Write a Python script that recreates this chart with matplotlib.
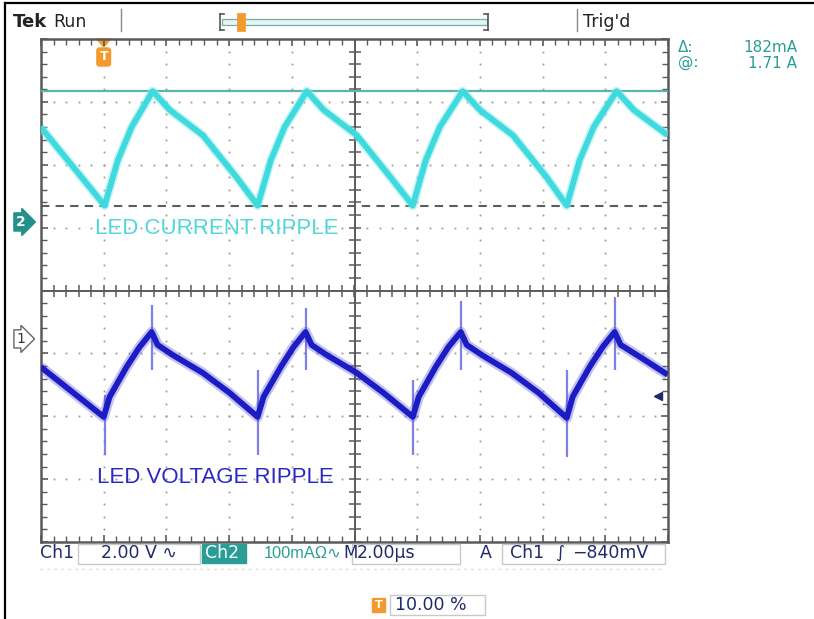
import matplotlib
matplotlib.use("Agg")
import matplotlib.pyplot as plt
import numpy as np
from matplotlib.lines import Line2D
from matplotlib.patches import Rectangle, Polygon
from matplotlib.transforms import blended_transform_factory

W, H = 814, 619

# Ch2 - LED current, time in us, current in A
cur_t = [-2.01, 0.03, 0.45, 0.89, 1.56, 2.11, 3.16, 4.24,
         4.91, 5.33, 5.77, 6.48, 7.02, 8.07, 9.15,
         9.86, 10.27, 10.72, 11.45, 12.00, 13.05, 14.13,
         14.77, 15.18, 15.63, 16.36, 16.91, 17.99]
cur_a = [1.653, 1.528, 1.600, 1.653, 1.710, 1.680, 1.640, 1.573,
         1.528, 1.600, 1.653, 1.710, 1.680, 1.640, 1.573,
         1.528, 1.600, 1.653, 1.710, 1.680, 1.640, 1.573,
         1.528, 1.600, 1.653, 1.710, 1.680, 1.640]

# Ch1 - LED voltage (AC coupled), time in us, volts
volt_t = [-2.01, 0.00, 0.19, 0.73, 1.15, 1.53, 1.72, 2.20, 3.16, 4.02,
          4.91, 5.10, 5.65, 6.06, 6.44, 6.63, 7.11, 8.07, 8.93,
          9.86, 10.05, 10.59, 11.00, 11.39, 11.58, 12.06, 13.01, 13.88,
          14.77, 14.96, 15.50, 15.92, 16.30, 16.49, 17.10, 17.99]
volt_v = [-0.89, -2.48, -1.84, -0.89, -0.25, 0.22, -0.19, -0.51, -1.08, -1.72,
          -2.48, -1.84, -0.89, -0.25, 0.22, -0.19, -0.51, -1.08, -1.72,
          -2.48, -1.84, -0.89, -0.25, 0.22, -0.19, -0.51, -1.08, -1.72,
          -2.51, -1.84, -0.89, -0.25, 0.22, -0.19, -0.57, -1.14]

# switching spikes on Ch1
spike_t = [0.03, 1.53, 4.91, 6.44, 9.86, 11.39, 14.77, 16.30]
spike_top = [-1.78, 1.08, -0.99, 0.99, -1.30, 1.20, -0.99, 1.34]
spike_bot = [-3.69, -0.99, -3.69, -0.99, -3.69, -0.99, -3.75, -0.99]

cursor_at = 1.71      # A
cursor_delta = 0.182  # A
trig_level_v = -1.81

# scope settings
t_per_div = 2.0
t_start = -2.0
ch1_v_per_div = 2.0
ch1_pos_div = -0.77
ch2_a_per_div = 0.1
ch2_center = 1.393
ch2_pos_div = 1.09

CUR_C = '#3fdade'
VOLT_C = '#1c1cc4'
TEAL = '#2a9d96'
NAVY = '#1f2a6b'
ORANGE = '#f29a2e'
SCOPE_FONT = ['DejaVu Sans']


def fx(px):
    return px / W


def fy(py):
    return 1 - py / H


fig = plt.figure(figsize=(W / 100, H / 100), dpi=100)
fig.patch.set_facecolor('white')

pos = [fx(41), fy(542), (668 - 41) / W, (542 - 39) / H]
ax = fig.add_axes(pos)
t_end = t_start + 10 * t_per_div
ax.set_xlim(t_start, t_end)
ax.set_ylim(-4, 4)
for s in ax.spines.values():
    s.set_color('#5a5a5a')
    s.set_linewidth(1.8)
ax.set_xticks(np.arange(t_start, t_end + 0.01, t_per_div))
ax.set_xticks(np.arange(t_start, t_end + 0.01, t_per_div / 5), minor=True)
ax.set_yticks(np.arange(-4, 4.01, 1))
ax.set_yticks(np.arange(-4, 4.01, 0.2), minor=True)
ax.tick_params(which='both', direction='in', top=True, right=True,
               labelbottom=False, labelleft=False, color='#5a5a5a')
ax.tick_params(which='major', length=5, width=1.2)
ax.tick_params(which='minor', length=4, width=1.0)

# graticule dots
t_mid = t_start + 5 * t_per_div
xs = np.arange(t_start, t_end + 0.01, t_per_div / 5)
ys = np.arange(-4, 4.01, 0.2)
for gy in range(-3, 4):
    if gy != 0:
        ax.plot(xs, [gy] * len(xs), ls='none', marker='s', ms=1.3,
                color='#9a9a9a', mew=0)
for k in range(1, 10):
    gx = t_start + k * t_per_div
    if k != 5:
        ax.plot([gx] * len(ys), ys, ls='none', marker='s', ms=1.3,
                color='#9a9a9a', mew=0)
# center axes with ticks
ax.axhline(0, color='#5a5a5a', lw=1.4)
ax.axvline(t_mid, color='#5a5a5a', lw=1.4)
ax.plot(xs, [0] * len(xs), ls='none', marker='|', ms=8, mew=1.1, color='#5a5a5a')
ax.plot([t_mid] * len(ys), ys, ls='none', marker='_', ms=8, mew=1.1, color='#5a5a5a')

# Ch1 axis (volts)
ax1 = fig.add_axes(pos, frameon=False)
ax1.set_xlim(t_start, t_end)
ax1.set_ylim((-4 - ch1_pos_div) * ch1_v_per_div, (4 - ch1_pos_div) * ch1_v_per_div)
ax1.axis('off')
ax1.vlines(spike_t, spike_bot, spike_top, color='#6a6ae6', lw=1.6, alpha=0.85)
ax1.plot(volt_t, volt_v, color='#5050d8', lw=7.5, alpha=0.35,
         solid_joinstyle='round', solid_capstyle='butt')
ax1.plot(volt_t, volt_v, color=VOLT_C, lw=4.2, solid_joinstyle='round',
         solid_capstyle='butt')
ax1.plot([t_start + (658 - 41) / 31.35], [trig_level_v], marker='<', ms=6,
         color=NAVY, clip_on=False)

# Ch2 axis (amps)
ax2 = fig.add_axes(pos, frameon=False)
ax2.set_xlim(t_start, t_end)
ax2.set_ylim(ch2_center - 4 * ch2_a_per_div, ch2_center + 4 * ch2_a_per_div)
ax2.axis('off')
ax2.axhline(cursor_at, color='#5fb3ae', lw=1.6)
ax2.axhline(cursor_at - cursor_delta, color='#555f5e', lw=1.5, ls=(0, (4, 3)))
ax2.plot(cur_t, cur_a, color='#8eeaec', lw=6.5, alpha=0.5,
         solid_joinstyle='round', solid_capstyle='butt')
ax2.plot(cur_t, cur_a, color=CUR_C, lw=4.2, solid_joinstyle='round',
         solid_capstyle='butt')

ax2.text(t_start + (95 - 41) / 31.35, ch2_center + 0.098, 'LED CURRENT RIPPLE',
         color='#4fd8dc', fontsize=16, family='Liberation Sans', va='center', ha='left')
ax.text(t_start + (97 - 41) / 31.35, -2.97, 'LED VOLTAGE RIPPLE', color='#2a2ac0',
        fontsize=16, family='Liberation Sans', va='center', ha='left')

# channel markers on the left
bt2 = blended_transform_factory(fig.transFigure, ax.transData)
bt1 = blended_transform_factory(fig.transFigure, ax1.transData)
ax.text(fx(16), ch2_pos_div, '2', transform=bt2, color='white', fontsize=10,
        fontweight='bold', va='center', family=SCOPE_FONT, clip_on=False,
        bbox=dict(boxstyle='rarrow,pad=0.15', fc='#23918b', ec='#23918b'))
ax1.text(fx(16), 0, '1', transform=bt1, color='#333333', fontsize=10,
         va='center', family=SCOPE_FONT, clip_on=False,
         bbox=dict(boxstyle='rarrow,pad=0.15', fc='white', ec='#666666', lw=1))

# trigger position marker
bt_top = blended_transform_factory(ax.transData, fig.transFigure)
ax.add_patch(Polygon([(-0.22, fy(39)), (0.22, fy(39)), (0, fy(47))], closed=True,
                     transform=bt_top, fc=ORANGE, ec=ORANGE, clip_on=False))
ax.text(0, fy(57), 'T', transform=bt_top, color='white', fontsize=9,
        fontweight='bold', ha='center', va='center', family=SCOPE_FONT,
        bbox=dict(boxstyle='round,pad=0.2', fc=ORANGE, ec=ORANGE))

# frame
fig.add_artist(Line2D([fx(5), fx(5)], [fy(3), 0], color='black', lw=1.6))
fig.add_artist(Line2D([fx(5), 1], [fy(3), fy(3)], color='black', lw=1.6))

# top status bar
fig.text(fx(13), fy(22), 'Tek', fontsize=13, fontweight='bold', va='center',
         family=SCOPE_FONT, color='#222222')
fig.text(fx(53), fy(22), 'Run', fontsize=12.5, va='center', family=SCOPE_FONT,
         color='#222222')
fig.add_artist(Line2D([fx(121)] * 2, [fy(9), fy(31)], color='#8a8a8a', lw=1))
fig.add_artist(Line2D([fx(577)] * 2, [fy(9), fy(31)], color='#8a8a8a', lw=1))
fig.add_artist(Rectangle((fx(222), fy(25)), fx(487) - fx(222), fy(19) - fy(25),
                         transform=fig.transFigure, fc='#e3f5f5', ec='#7faaa8', lw=0.9))
for bx, d in [(220, 4), (488, -4)]:
    fig.add_artist(Line2D([fx(bx)] * 2, [fy(14), fy(30)], color='#555555', lw=1.2))
    fig.add_artist(Line2D([fx(bx), fx(bx + d)], [fy(14), fy(14)], color='#555555', lw=1.2))
    fig.add_artist(Line2D([fx(bx), fx(bx + d)], [fy(30), fy(30)], color='#555555', lw=1.2))
fig.add_artist(Rectangle((fx(237), fy(31)), fx(245) - fx(237), fy(13) - fy(31),
                         transform=fig.transFigure, fc=ORANGE, ec=ORANGE, lw=0.5))
fig.text(fx(583), fy(22), "Trig'd", fontsize=12.5, va='center', family=SCOPE_FONT,
         color='#222222')

# cursor readout
fig.text(fx(678), fy(47), '\u0394:', fontsize=11, va='center', family=SCOPE_FONT, color=TEAL)
fig.text(fx(678), fy(63), '@:', fontsize=11, va='center', family=SCOPE_FONT, color=TEAL)
fig.text(fx(797), fy(47), '%dmA' % round(cursor_delta * 1000), fontsize=11,
         va='center', ha='right', family=SCOPE_FONT, color=TEAL)
fig.text(fx(797), fy(63), '%.2f A' % cursor_at, fontsize=11,
         va='center', ha='right', family=SCOPE_FONT, color=TEAL)

# bottom readout
by = fy(553)


def box(x0, x1, y0, y1, fc='none', ec='#c9c9c9'):
    fig.add_artist(Rectangle((fx(x0), fy(y1)), fx(x1) - fx(x0), fy(y0) - fy(y1),
                             transform=fig.transFigure, fc=fc, ec=ec, lw=1))


box(78, 200, 544, 564)
box(202, 246, 544, 563, fc=TEAL, ec=TEAL)
box(352, 460, 544, 564)
box(502, 665, 544, 564)
fig.text(fx(40), by, 'Ch1', fontsize=12.5, va='center', family=SCOPE_FONT, color=NAVY)
fig.text(fx(101), by, '2.00 V \u223f', fontsize=12.5, va='center', family=SCOPE_FONT, color=NAVY)
fig.text(fx(205), by, 'Ch2', fontsize=12.5, va='center', family=SCOPE_FONT, color='white')
fig.text(fx(264), by, '100mA\u03a9\u223f', fontsize=11.8, va='center',
         family=['Liberation Sans', 'DejaVu Sans'], color=TEAL)
fig.text(fx(343), by, 'M', fontsize=12, va='center', family=SCOPE_FONT, color=NAVY)
fig.text(fx(357), by, '2.00\u00b5s', fontsize=12.5, va='center', family=SCOPE_FONT, color=NAVY)
fig.text(fx(480), by, 'A', fontsize=12.5, va='center', family=SCOPE_FONT, color=NAVY)
fig.text(fx(510), by, 'Ch1', fontsize=12.5, va='center', family=SCOPE_FONT, color=NAVY)
fig.text(fx(556), by, '\u222b', fontsize=12.5, va='center', family=SCOPE_FONT, color=NAVY)
fig.text(fx(572), by, '\u2212840mV', fontsize=12.5, va='center', family=SCOPE_FONT, color=NAVY)
fig.add_artist(Line2D([fx(40), fx(665)], [fy(569), fy(569)], color='#dddddd', lw=1,
                      ls=(0, (2, 3))))

box(390, 485, 595, 615)
fig.add_artist(Rectangle((fx(372), fy(612)), fx(385) - fx(372), fy(598) - fy(612),
                         transform=fig.transFigure, fc=ORANGE, ec=ORANGE))
fig.text(fx(378.5), fy(605), 'T', fontsize=8, fontweight='bold', color='white',
         ha='center', va='center', family=SCOPE_FONT)
fig.text(fx(395), fy(605), '10.00 %', fontsize=12.5, va='center', family=SCOPE_FONT,
         color=NAVY)

fig.savefig('out.png', dpi=100)
